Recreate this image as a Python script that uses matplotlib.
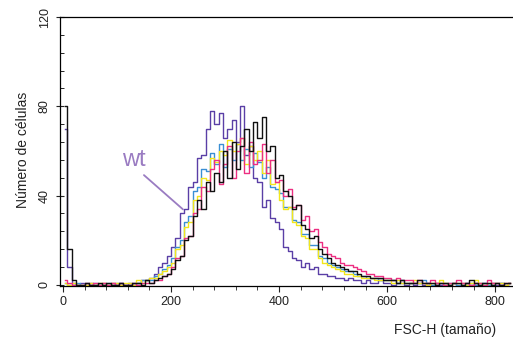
import numpy as np
import matplotlib
matplotlib.use("Agg")
import matplotlib.pyplot as plt
from matplotlib.ticker import MultipleLocator

plt.rcParams['font.family'] = ['Liberation Sans', 'DejaVu Sans']

# histogram channels (bin centres, FSC-H units)
channels = np.arange(4, 832, 8)

wt = [70, 8, 1, 0, 1, 0, 1, 0, 0, 1, 0, 1, 0, 1, 0, 1, 0, 1, 2, 2,
      3, 5, 8, 10, 13, 17, 21, 32, 34, 44, 46, 57, 58, 70, 78, 72, 77, 66, 70, 74,
      64, 80, 58, 62, 48, 46, 35, 38, 30, 28, 25, 17, 15, 12, 11, 8, 10, 7, 8, 5,
      5, 4, 4, 3, 3, 2, 3, 2, 2, 1, 2, 1, 1, 2, 1, 1, 0, 1, 1, 0,
      1, 0, 1, 0, 1, 0, 1, 0, 1, 0, 1, 0, 0, 1, 0, 1, 0, 1, 0, 1,
      0, 1, 0, 1]
black = [80, 16, 2, 0, 0, 1, 0, 0, 1, 0, 1, 0, 0, 1, 0, 0, 1, 1, 0, 2,
         1, 2, 3, 4, 5, 7, 11, 13, 20, 22, 31, 38, 34, 46, 42, 50, 46, 60, 48, 64,
         52, 62, 70, 60, 73, 66, 75, 60, 62, 48, 49, 42, 40, 34, 36, 27, 25, 21, 22, 16,
         14, 12, 10, 9, 8, 7, 6, 6, 5, 4, 4, 3, 3, 3, 2, 2, 2, 1, 2, 1,
         1, 1, 2, 1, 1, 1, 0, 1, 1, 0, 1, 1, 0, 1, 2, 1, 0, 1, 1, 0,
         1, 0, 1, 1]
pink = [2, 1, 0, 0, 0, 1, 0, 1, 0, 1, 0, 1, 0, 1, 0, 0, 1, 0, 1, 1,
        1, 2, 2, 4, 5, 8, 12, 13, 21, 22, 32, 34, 44, 42, 52, 56, 45, 54, 62, 48,
        60, 66, 50, 64, 54, 56, 63, 50, 56, 46, 47, 40, 43, 35, 36, 29, 31, 24, 25, 19,
        17, 14, 13, 12, 10, 9, 9, 8, 7, 6, 5, 5, 4, 4, 3, 3, 2, 3, 2, 2,
        2, 1, 2, 1, 1, 2, 1, 1, 0, 1, 1, 2, 1, 1, 0, 1, 1, 0, 2, 1,
        1, 0, 1, 1]
yellow = [1, 0, 1, 0, 0, 0, 1, 0, 1, 1, 0, 1, 1, 0, 1, 1, 0, 2, 1, 2,
          3, 3, 5, 6, 8, 10, 16, 18, 26, 28, 38, 40, 48, 47, 57, 55, 60, 58, 65, 60,
          63, 66, 54, 62, 56, 60, 50, 56, 45, 46, 38, 34, 35, 28, 27, 22, 21, 16, 16, 12,
          10, 9, 8, 7, 6, 5, 5, 4, 4, 3, 3, 3, 2, 2, 2, 2, 1, 2, 1, 1,
          1, 2, 1, 1, 0, 1, 1, 2, 1, 0, 1, 1, 1, 0, 1, 2, 1, 0, 1, 1,
          1, 1, 0, 1]
blue = [1, 0, 0, 1, 0, 1, 0, 1, 0, 0, 1, 0, 1, 1, 0, 0, 1, 1, 2, 2,
        2, 4, 5, 7, 9, 12, 17, 20, 28, 31, 42, 44, 52, 51, 59, 54, 63, 53, 61, 56,
        63, 56, 61, 53, 59, 55, 48, 53, 44, 43, 41, 35, 35, 29, 28, 23, 23, 18, 18, 13,
        12, 10, 9, 8, 7, 6, 6, 5, 4, 4, 3, 3, 3, 2, 2, 2, 2, 1, 2, 1,
        1, 1, 1, 2, 1, 0, 1, 1, 0, 1, 1, 0, 1, 1, 1, 0, 1, 1, 0, 1,
        1, 1, 0, 1]

series = [(wt, '#5a3fa6'), (blue, '#3a8fd4'), (yellow, '#f2e61c'),
          (pink, '#ec2f82'), (black, '#111111')]

fig = plt.figure(figsize=(5.13, 3.43), dpi=100)
ax = fig.add_axes([60 / 513, 1 - 286 / 343, 1 - 60 / 513, 269 / 343])

for vals, col in series:
    ax.plot(channels, vals, drawstyle='steps-mid', color=col, lw=1.0)

ax.set_xlim(-5.5, 833)
ax.set_ylim(-0.5, 120)
ax.spines['right'].set_visible(False)
for s in ['left', 'top', 'bottom']:
    ax.spines[s].set_linewidth(0.9)

ax.xaxis.set_major_locator(MultipleLocator(200))
ax.xaxis.set_minor_locator(MultipleLocator(40))
ax.yaxis.set_major_locator(MultipleLocator(40))
ax.yaxis.set_minor_locator(MultipleLocator(8))
ax.tick_params(axis='x', which='both', direction='out', labelsize=9, colors='#222222')
ax.tick_params(axis='x', which='major', length=4)
ax.tick_params(axis='x', which='minor', length=3)
ax.tick_params(axis='y', which='major', direction='inout', length=6, labelsize=9,
               colors='#222222', labelrotation=90)
ax.tick_params(axis='y', which='minor', direction='in', length=3)
for lab in ax.get_yticklabels():
    lab.set_verticalalignment('center')

ax.text(131, 56, 'wt', color='#9a7cc2', fontsize=17, ha='center', va='center')
ax.annotate('', xy=(226, 33), xytext=(146, 50),
            arrowprops=dict(arrowstyle='-', color='#9a7cc2', lw=1.3))

fig.text(23 / 513, 1 - 150 / 343, 'Número de células', rotation=90,
         ha='center', va='center', fontsize=10, color='#222222')
fig.text(445 / 513, 1 - 330 / 343, 'FSC-H (tamaño)', ha='center', va='center',
         fontsize=10, color='#222222')

fig.savefig('out.png', dpi=100)
